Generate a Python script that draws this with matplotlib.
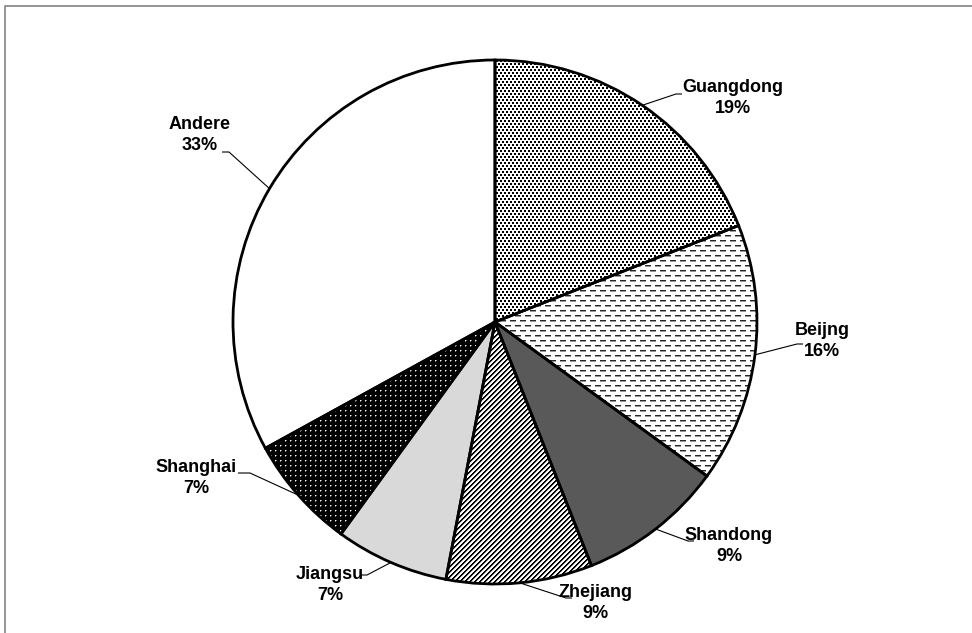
import numpy as np
import matplotlib
matplotlib.use("Agg")
import matplotlib.pyplot as plt
from matplotlib.lines import Line2D

# Provincial shares (percent), clockwise from 12 o'clock
regions = ["Guangdong", "Beijng", "Shandong", "Zhejiang", "Jiangsu", "Shanghai", "Andere"]
shares = [19, 16, 9, 9, 7, 7, 33]

W, H = 972, 633
DPI = 100

# Layout (pixel space, y measured from the top)
CENTER = (495, 322)
RADIUS = 262
label_pos = [(733, 98), (822, 341), (729, 546), (595, 603), (330, 585), (196, 478), (200, 135)]
# leader attachment next to each label (x, y) and short horizontal tail length
leader_knee = [(676, 94), (797, 344), (688, 541), (566, 598), (367, 575), (250, 473), (229, 152)]
leader_tail = [6, 6, 6, 6, -6, -12, -7]

fig = plt.figure(figsize=(W / DPI, H / DPI), dpi=DPI)
ax = fig.add_axes([0, 0, 1, 1])


def py(y):
    return H - y


wedges, _ = ax.pie(
    shares,
    startangle=90,
    counterclock=False,
    center=(CENTER[0], py(CENTER[1])),
    radius=RADIUS,
    colors=["white"] * len(shares),
    wedgeprops=dict(edgecolor="black", linewidth=2.0),
)
ax.set_xlim(0, W)
ax.set_ylim(0, H)
ax.set_aspect("auto")
ax.axis("off")

# Pixel textures for the fills
yy, xx = np.mgrid[0:H, 0:W]


def dot_screen():
    # staggered 2x2 black dots on white
    img = np.ones((H, W))
    r = yy % 6
    a = (r < 2) & ((xx % 4) < 2)
    b = ((r == 3) | (r == 4)) & (((xx + 2) % 4) < 2)
    img[a | b] = 0.0
    return img


def dash_screen():
    img = np.ones((H, W))
    row = yy % 5
    shift = np.where((yy // 5) % 2 == 0, 0, 5)
    dash = ((xx + shift) % 10) < 6
    img[(row == 0) & dash] = 0.15
    img[(row == 1) & dash] = 0.6
    return img


def stripes():
    img = np.ones((H, W))
    d = (xx + yy) % 5
    img[d < 2] = 0.0
    img[d == 2] = 0.75
    return img


def inverse_dots():
    img = np.zeros((H, W))
    img[(xx % 5 == 0) & (yy % 5 == 0)] = 1.0
    img[((xx % 5 == 1) & (yy % 5 == 0)) | ((xx % 5 == 0) & (yy % 5 == 1))] = 0.45
    return img


def solid(v):
    return np.full((H, W), v)


textures = [dot_screen(), dash_screen(), solid(0x59 / 255), stripes(),
            solid(0xD9 / 255), inverse_dots(), solid(1.0)]

for w, t in zip(wedges, textures):
    im = ax.imshow(t, cmap="gray", vmin=0, vmax=1, extent=(0, W, 0, H),
                   origin="upper", interpolation="nearest", zorder=1)
    im.set_clip_path(w)
    w.set_facecolor("none")
    w.set_zorder(2)
ax.set_xlim(0, W)
ax.set_ylim(0, H)

# Labels with leader lines
cum = np.cumsum([0] + shares[:-1])
total = float(sum(shares))
for i, (name, val) in enumerate(zip(regions, shares)):
    mid = (cum[i] + val / 2) / total * 2 * np.pi
    ex = CENTER[0] + RADIUS * np.sin(mid)
    ey = CENTER[1] - RADIUS * np.cos(mid)
    kx, ky = leader_knee[i]
    ax.plot([ex, kx, kx + leader_tail[i]], [py(ey), py(ky), py(ky)],
            color="black", lw=0.8, zorder=3, solid_capstyle="butt")
    lx, ly = label_pos[i]
    ax.text(lx, py(ly), f"{name}\n{val}%", ha="center", va="center",
            fontsize=13, fontweight="bold", family="Liberation Sans",
            linespacing=1.35, zorder=4)

# Outer frame (top and left edges)
fig.add_artist(Line2D([5 / W, 5 / W, 1], [0, 1 - 6 / H, 1 - 6 / H],
                      transform=fig.transFigure, color="#8c8c8c", lw=1.3))

fig.savefig("out.png", dpi=DPI)
